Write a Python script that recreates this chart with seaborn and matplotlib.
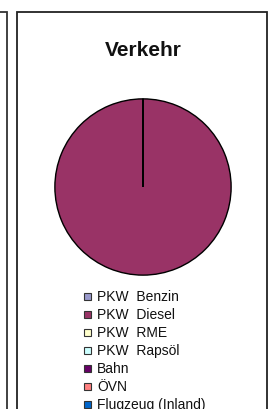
import matplotlib
matplotlib.use("Agg")
import matplotlib.pyplot as plt
import seaborn as sns
from matplotlib.patches import Rectangle

sns.set_theme(style="white")
plt.rcParams['font.family'] = ['Liberation Sans', 'DejaVu Sans']

title = "Verkehr"
categories = ["PKW  Benzin", "PKW  Diesel", "PKW  RME", "PKW  Rapsöl",
              "Bahn", "ÖVN", "Flugzeug (Inland)"]
shares = [0, 100, 0, 0, 0, 0, 0]
colors = ["#9999CC", "#993366", "#FFFFCC", "#CCFFFF",
          "#660066", "#FF8080", "#0066CC"]

W, H = 271, 410
fig = plt.figure(figsize=(W / 100, H / 100), dpi=100)
fig.patch.set_facecolor("white")

# panel frames (neighbour panel on the left, this panel on the right)
fig.patches.append(Rectangle((-20 / W, -0.1), 27 / W, 1.1 - 13 / H,
                             transform=fig.transFigure, fill=False,
                             edgecolor="#333333", lw=1.3))
fig.patches.append(Rectangle((17 / W, -0.1), 250 / W, 1.1 - 13 / H,
                             transform=fig.transFigure, fill=False,
                             edgecolor="#222222", lw=1.3))

# pie: centre (143, 188), radius 89 px
cx, cy, r = 143, 188, 89
ax = fig.add_axes([(cx - r) / W, 1 - (cy + r) / H, 2 * r / W, 2 * r / H])
ax.pie(shares, colors=colors, startangle=90, counterclock=False,
       wedgeprops=dict(edgecolor="black", linewidth=1.0))
ax.set_aspect("auto")
ax.set_xlim(-1.01, 1.01)
ax.set_ylim(-1.01, 1.01)
ax.axis("off")

fig.text(cx / W, 1 - 51 / H, title, ha="center", va="center",
         fontsize=15, fontweight="bold", color="#111111")

# legend
y0, dy = 297, 18
for i, (lab, col) in enumerate(zip(categories, colors)):
    y = y0 + i * dy
    fig.patches.append(Rectangle((84 / W, 1 - (y + 3.5) / H), 7 / W, 7 / H,
                                 transform=fig.transFigure, facecolor=col,
                                 edgecolor="#333333", lw=0.8))
    fig.text(97 / W, 1 - y / H, lab, ha="left", va="center",
             fontsize=10, color="#111111")

fig.savefig("out.png", dpi=100)
